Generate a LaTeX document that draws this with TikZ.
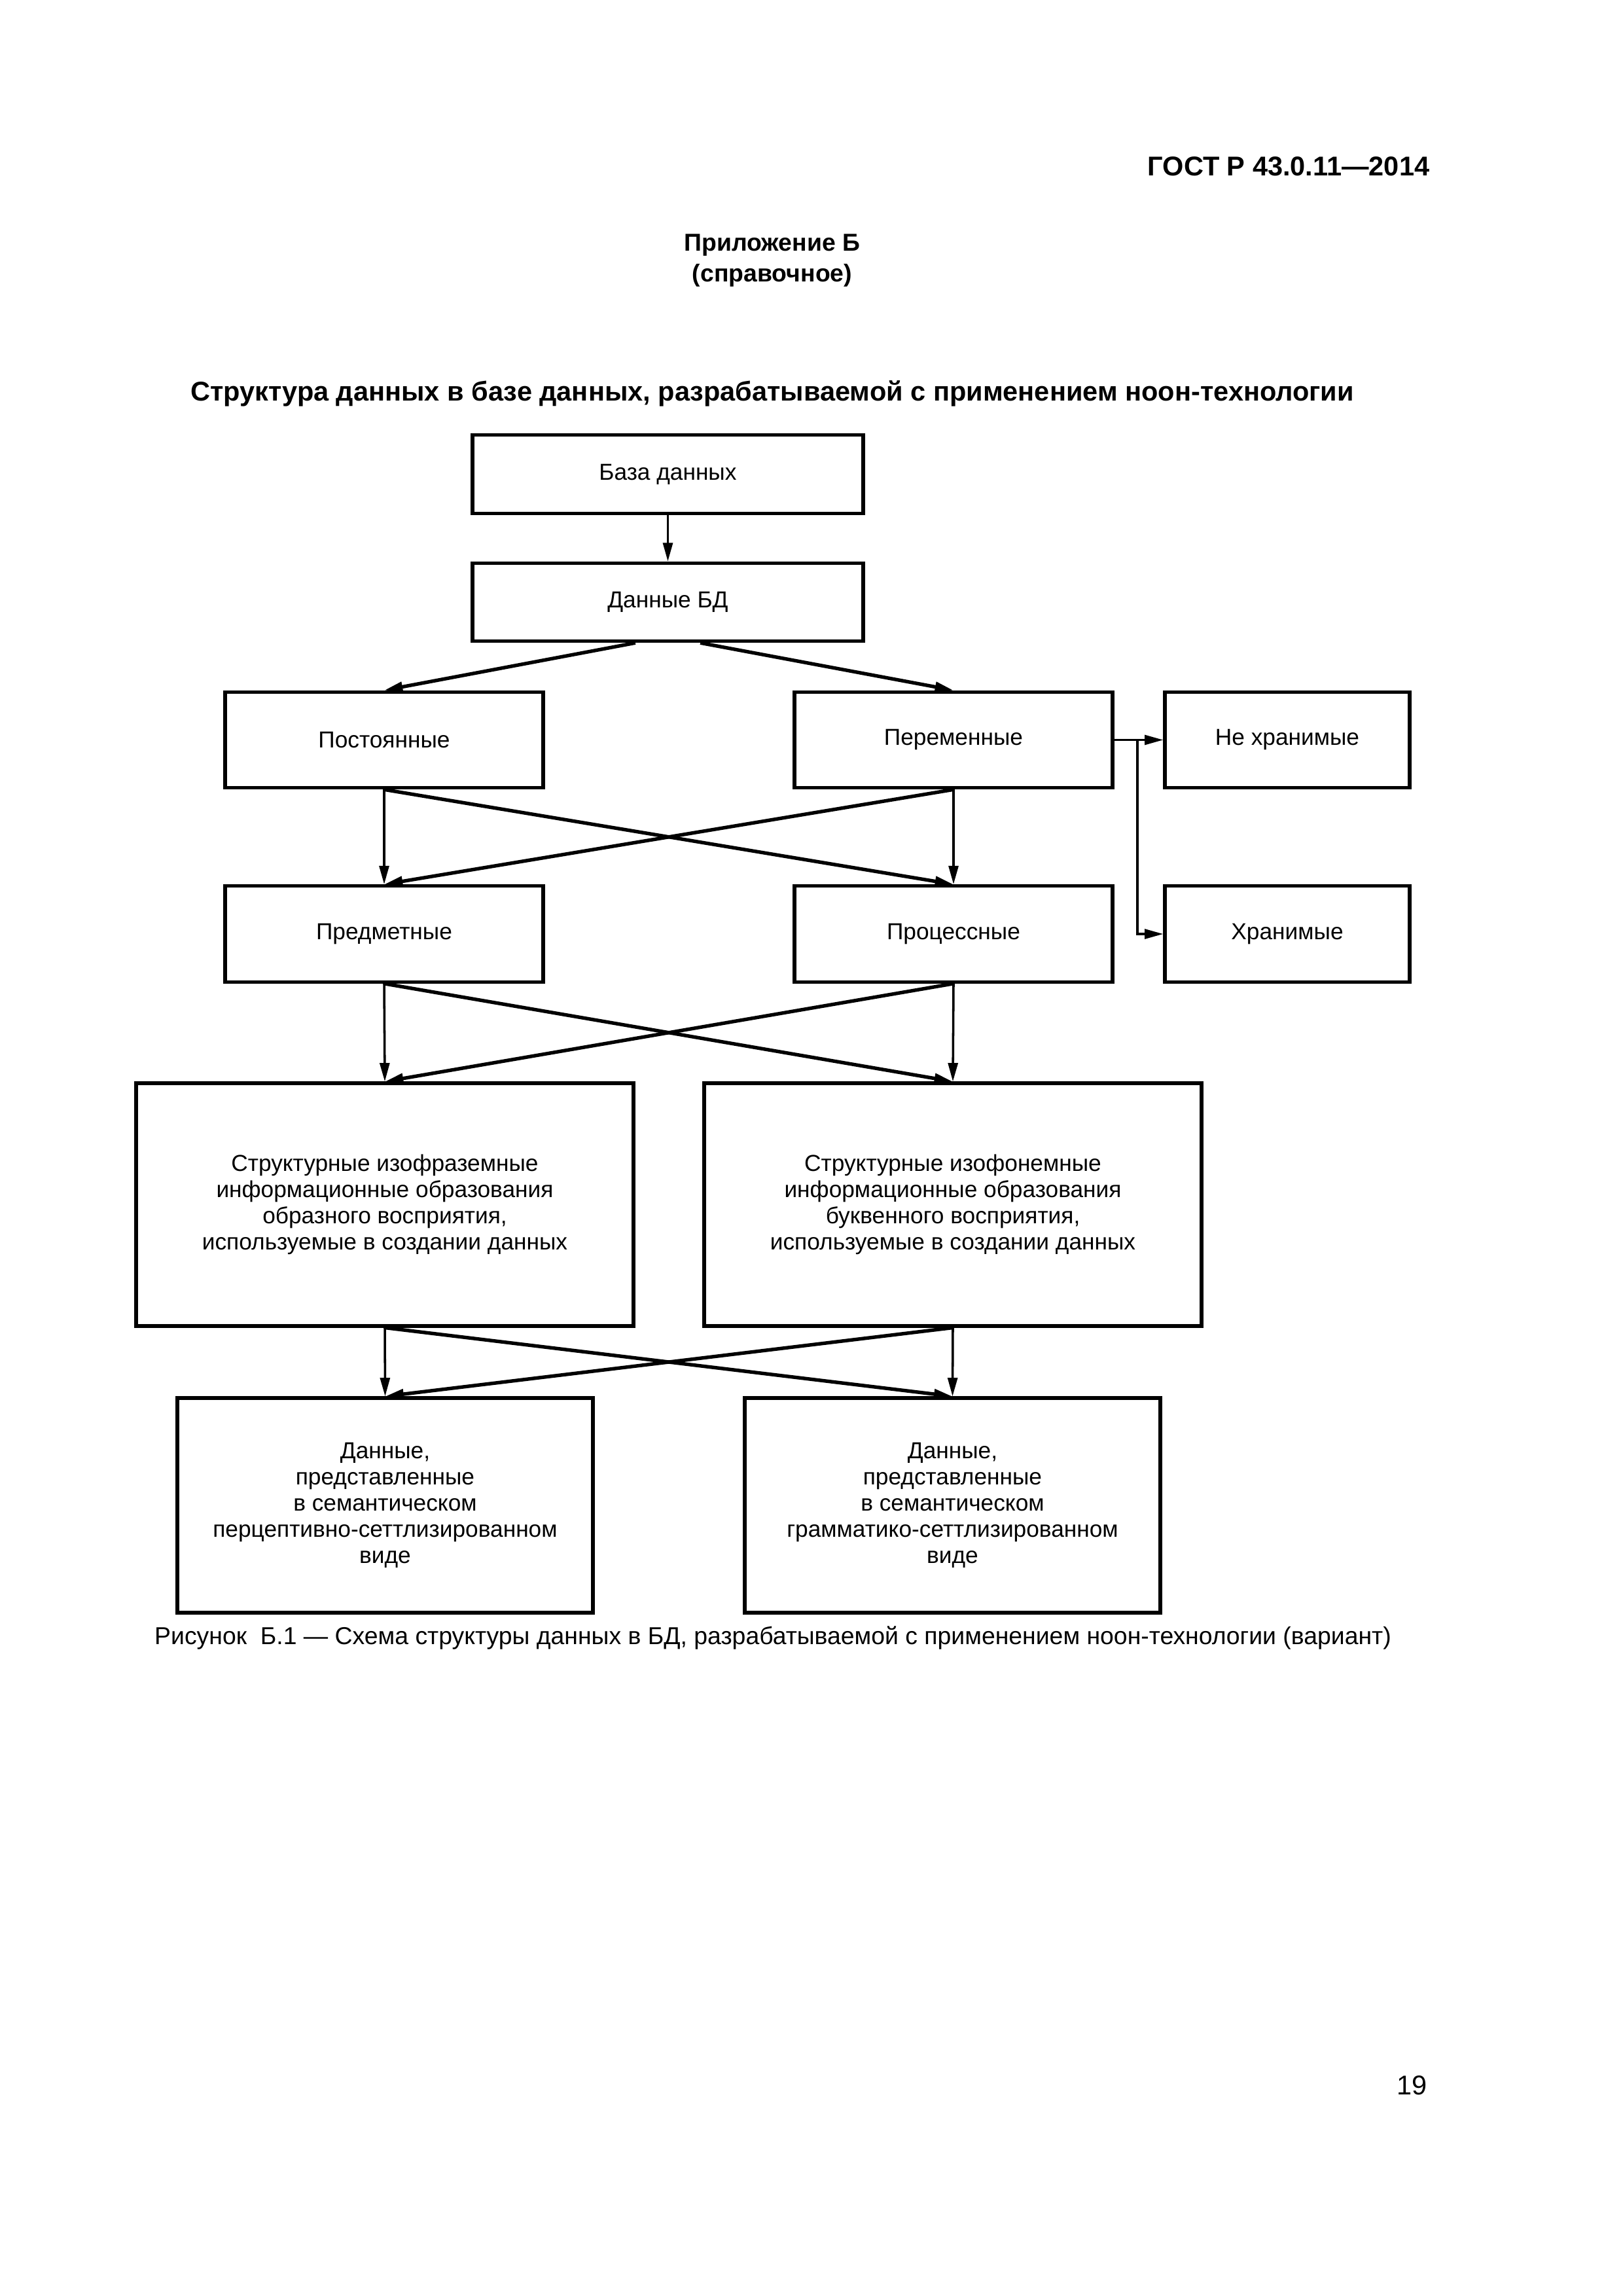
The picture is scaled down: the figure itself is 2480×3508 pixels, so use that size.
\documentclass[tikz,border=0pt]{standalone}
\usepackage{fontspec}
\setmainfont{Liberation Sans}
\usetikzlibrary{arrows.meta}
\begin{document}
\begin{tikzpicture}[x=0.084677mm,y=-0.084677mm,
  box/.style={draw, line width=1.25pt, inner sep=0pt, align=center, font=\fontsize{8.5}{9.6}\selectfont},
  sbox/.style={box, minimum width=41.15mm, minimum height=12.4mm},
  bigbox/.style={box, minimum width=64.35mm, minimum height=31.4mm},
  datbox/.style={box, minimum width=53.77mm, minimum height=27.77mm},
  topbox/.style={box, minimum width=50.55mm, minimum height=10.1mm},
  sideline/.style={box, minimum width=31.67mm, minimum height=12.4mm},
  thinarr/.style={line width=0.85pt, -{Triangle[length=2.4mm,width=1.25mm]}},
  thickarr/.style={line width=1.3pt, -{Triangle[length=2.4mm,width=1.25mm]}},
  plain/.style={anchor=base, inner sep=0pt}
]
\useasboundingbox (0,0) rectangle (2480,3508);

% page texts
\node[plain, anchor=base east, font=\fontsize{10}{12}\selectfont\bfseries] (gost) at (2185,268) {ГОСТ Р 43.0.11—2014};
\node[plain, font=\fontsize{9}{11}\selectfont\bfseries] (app) at (1180,383) {Приложение Б};
\node[plain, font=\fontsize{9}{11}\selectfont\bfseries] (ref) at (1180,430) {(справочное)};
\node[plain, font=\fontsize{10}{12}\selectfont\bfseries] (title) at (1180,612) {Структура данных в базе данных, разрабатываемой с применением ноон-технологии};

% boxes
\node[topbox] (bd) at (1020.5,724.5) {База данных};
\node[topbox] (dbd) at (1020.5,920) {Данные БД};
\node[sbox] (post) at (587,1130.5) {Постоянные};
\node[sbox] (per) at (1457,1130.5) {Переменные};
\node[sideline] (nehr) at (1967,1130.5) {Не хранимые};
\node[sbox] (pred) at (587,1427) {Предметные};
\node[sbox] (proc) at (1457,1427) {Процессные};
\node[sideline] (hr) at (1967,1427) {Хранимые};
\node[bigbox] (strL) at (588,1840.5) {Структурные изофраземные\\информационные образования\\образного восприятия,\\используемые в создании данных};
\node[bigbox] (strR) at (1456,1840.5) {Структурные изофонемные\\информационные образования\\буквенного восприятия,\\используемые в создании данных};
\node[datbox] (datL) at (588.5,2300) {Данные,\\представленные\\в семантическом\\перцептивно-сеттлизированном\\виде};
\node[datbox] (datR) at (1455.5,2300) {Данные,\\представленные\\в семантическом\\грамматико-сеттлизированном\\виде};

% caption and page number
\node[plain, font=\fontsize{9}{11}\selectfont] (cap) at (1181,2512) {Рисунок~~Б.1 — Схема структуры данных в БД, разрабатываемой с применением ноон-технологии (вариант)};
\node[plain, anchor=base east, font=\fontsize{10}{12}\selectfont] (pg) at (2181,3200) {19};

% connectors
\draw[thinarr] (bd.south) -- (dbd.north);
\draw[thickarr] ([xshift=-4.2mm]dbd.south) -- (post.north);
\draw[thickarr] ([xshift=4.2mm]dbd.south) -- (per.north);

\draw[thinarr] (post.south) -- (pred.north);
\draw[thinarr] (per.south) -- (proc.north);
\draw[thickarr] (post.south) -- (proc.north);
\draw[thickarr] (per.south) -- (pred.north);

\coordinate (br) at ([xshift=3mm]per.east);
\draw[thinarr] (per.east) -- (nehr.west);
\draw[thinarr] (br) |- (hr.west);

\draw[thinarr] (pred.south) -- (strL.north);
\draw[thinarr] (proc.south) -- (strR.north);
\draw[thickarr] (pred.south) -- (strR.north);
\draw[thickarr] (proc.south) -- (strL.north);

\draw[thinarr] (strL.south) -- (datL.north);
\draw[thinarr] (strR.south) -- (datR.north);
\draw[thickarr] (strL.south) -- (datR.north);
\draw[thickarr] (strR.south) -- (datL.north);
\end{tikzpicture}
\end{document}
